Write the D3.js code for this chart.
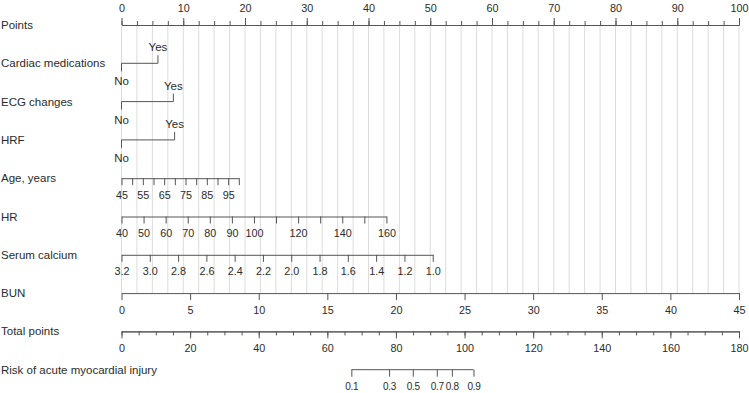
<!DOCTYPE html>
<html>
<head>
<meta charset="utf-8">
<script src="https://cdn.jsdelivr.net/npm/d3@7"></script>
<style>
  body { margin: 0; background: #fff; }
  svg text { font-family: "Liberation Sans", Arial, Helvetica, sans-serif; font-size: 11.5px; fill: #2b2b2b; }
  .ax path, .ax line { stroke: #555; }
</style>
</head>
<body>
<svg id="nomo" width="749" height="393"></svg>
<script>
// row labels, top to bottom
var rowNames = ["Points", "Cardiac medications", "ECG changes", "HRF", "Age, years", "HR",
                "Serum calcium", "BUN", "Total points", "Risk of acute myocardial injury"];

// points axis
var pointsMajor = [0, 10, 20, 30, 40, 50, 60, 70, 80, 90, 100];
var pointsMinor = [0, 2.5, 5, 7.5, 10, 12.5, 15, 17.5, 20, 22.5, 25, 27.5, 30, 32.5, 35, 37.5, 40, 42.5,
                   45, 47.5, 50, 52.5, 55, 57.5, 60, 62.5, 65, 67.5, 70, 72.5, 75, 77.5, 80, 82.5, 85,
                   87.5, 90, 92.5, 95, 97.5, 100];

// binary predictors: points for "Yes" ("No" = 0)
var binaryNames = ["Cardiac medications", "ECG changes", "HRF"];
var binaryYes = [5.9, 8.4, 8.6];

// continuous predictors: value range and points at range end
var ageRange = [45, 100], agePoints = [0, 19];
var ageTicks = [45, 50, 55, 60, 65, 70, 75, 80, 85, 90, 95, 100];
var ageLabels = [45, 55, 65, 75, 85, 95];

var hrRange = [40, 160], hrPoints = [0, 42.9];
var hrTicks = [40, 50, 60, 70, 80, 90, 100, 110, 120, 130, 140, 150, 160];
var hrLabels = [40, 50, 60, 70, 80, 90, 100, 120, 140, 160];

var caRange = [3.2, 1.0], caPoints = [0, 50.4];
var caTicks = [3.2, 3.0, 2.8, 2.6, 2.4, 2.2, 2.0, 1.8, 1.6, 1.4, 1.2, 1.0];

var bunRange = [0, 45], bunPoints = [0, 100];
var bunTicks = [0, 5, 10, 15, 20, 25, 30, 35, 40, 45];

// total points axis
var totalRange = [0, 180];
var totalMinor = [0, 5, 10, 15, 20, 25, 30, 35, 40, 45, 50, 55, 60, 65, 70, 75, 80, 85, 90, 95, 100,
                  105, 110, 115, 120, 125, 130, 135, 140, 145, 150, 155, 160, 165, 170, 175, 180];
var totalMajor = [0, 20, 40, 60, 80, 100, 120, 140, 160, 180];

// risk: probability and the total points where it sits
var riskValues = [0.1, 0.3, 0.5, 0.7, 0.8, 0.9];
var riskTotal = [67.0, 78.0, 84.9, 91.9, 96.3, 102.6];


var svg = d3.select("#nomo");
var x = d3.scaleLinear().domain([0, 100]).range([121.5, 739]);
var rowY = function(i) { return 25 + i * 38.3; };
var tickFont = "10.8px";

// grid
svg.append("g").selectAll("line")
    .data(pointsMinor).enter().append("line")
    .attr("x1", function(d) { return x(d); })
    .attr("x2", function(d) { return x(d); })
    .attr("y1", rowY(0))
    .attr("y2", rowY(7))
    .attr("stroke", "#dcdcdc")
    .attr("stroke-width", 1);

// row labels
svg.append("g").selectAll("text")
    .data(rowNames).enter().append("text")
    .attr("x", 1)
    .attr("y", function(d, i) { return rowY(i); })
    .attr("dy", "0.35em")
    .text(function(d) { return d; });

// points axis (ticks up)
var gP = svg.append("g").attr("class", "ax").attr("transform", "translate(0," + rowY(0) + ")");
gP.append("g").call(d3.axisTop(x).tickValues(pointsMinor).tickSize(4).tickSizeOuter(0).tickFormat(""));
gP.append("g").call(d3.axisTop(x).tickValues(pointsMajor).tickSize(7).tickSizeOuter(0).tickPadding(6.5).tickFormat(d3.format("d")));
gP.selectAll("text").style("font-size", tickFont);

// binary rows
binaryNames.forEach(function(name, k) {
    var y0 = rowY(k + 1);
    var g = svg.append("g").attr("class", "ax");
    g.append("line").attr("x1", x(0)).attr("x2", x(binaryYes[k])).attr("y1", y0).attr("y2", y0).attr("stroke", "#555");
    g.append("line").attr("x1", x(0)).attr("x2", x(0)).attr("y1", y0).attr("y2", y0 + 8).attr("stroke", "#555");
    g.append("line").attr("x1", x(binaryYes[k])).attr("x2", x(binaryYes[k])).attr("y1", y0).attr("y2", y0 - 8).attr("stroke", "#555");
    g.append("text").attr("x", x(0)).attr("y", y0 + 18).attr("dy", "0.35em").attr("text-anchor", "middle").text("No");
    g.append("text").attr("x", x(binaryYes[k])).attr("y", y0 - 16).attr("dy", "0.35em").attr("text-anchor", "middle").text("Yes");
});

// continuous rows (ticks down)
function addScale(row, dom, pts, ticks, labels, fmt) {
    var s = d3.scaleLinear().domain(dom).range([x(pts[0]), x(pts[1])]);
    var g = svg.append("g").attr("class", "ax").attr("transform", "translate(0," + rowY(row) + ")");
    g.call(d3.axisBottom(s).tickValues(ticks).tickSize(7).tickSizeOuter(0).tickPadding(6)
        .tickFormat(function(d) {
            return labels.some(function(l) { return Math.abs(l - d) < 1e-9; }) ? fmt(d) : "";
        }));
    g.selectAll("text").style("font-size", tickFont);
    return g;
}
addScale(4, ageRange, agePoints, ageTicks, ageLabels, d3.format("d"));
addScale(5, hrRange, hrPoints, hrTicks, hrLabels, d3.format("d"));
addScale(6, caRange, caPoints, caTicks, caTicks, d3.format(".1f"));
addScale(7, bunRange, bunPoints, bunTicks, bunTicks, d3.format("d"));

// total points
var t = d3.scaleLinear().domain(totalRange).range([x(0), x(100)]);
var gT = svg.append("g").attr("class", "ax").attr("transform", "translate(0," + rowY(8) + ")");
gT.append("g").call(d3.axisBottom(t).tickValues(totalMinor).tickSize(4).tickSizeOuter(0).tickFormat(""));
gT.append("g").call(d3.axisBottom(t).tickValues(totalMajor).tickSize(7).tickSizeOuter(0).tickPadding(6).tickFormat(d3.format("d")));
gT.selectAll("text").style("font-size", tickFont);

// risk
var r = d3.scaleOrdinal().domain(riskValues).range(riskTotal.map(function(v) { return t(v); }));
var gR = svg.append("g").attr("class", "ax").attr("transform", "translate(0," + rowY(9) + ")");
gR.call(d3.axisBottom(r).tickSize(7).tickSizeOuter(0).tickPadding(6).tickFormat(d3.format(".1f")));
gR.select(".domain").attr("d", "M" + t(riskTotal[0]) + ",0H" + t(riskTotal[riskTotal.length - 1]));
gR.selectAll("text").style("font-size", "10px").style("letter-spacing", "-0.3px");
</script>
</body>
</html>
